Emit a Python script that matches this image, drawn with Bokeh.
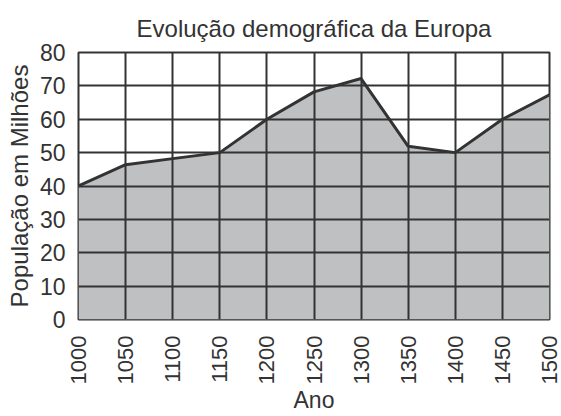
from bokeh.plotting import figure
from bokeh.models import FixedTicker, Range1d
from bokeh.embed import file_html
from bokeh.resources import INLINE
import math

anos = [1000, 1050, 1100, 1150, 1200, 1250, 1300, 1350, 1400, 1450, 1500]
populacao = [40, 46.4, 48.2, 50, 60, 68.2, 72.2, 51.9, 50, 60, 67.3]
y_ticks = [0, 10, 20, 30, 40, 50, 60, 70, 80]

FONT = "Liberation Sans"
DARK = "#333333"

p = figure(width=561, height=416, output_backend="svg", toolbar_location=None,
           x_range=Range1d(1000, 1500), y_range=Range1d(0, 80),
           title="Evolução demográfica da Europa",
           min_border_left=78, min_border_right=12, min_border_top=52, min_border_bottom=97)

p.varea(x=anos, y1=[0] * len(anos), y2=populacao, fill_color="#bfc0c2", level="image")
p.line(x=anos, y=populacao, line_color=DARK, line_width=3)

p.title.align = "center"
p.title.text_font = FONT
p.title.text_font_size = "24px"
p.title.text_font_style = "normal"
p.title.text_color = DARK
p.title.standoff = 22

p.outline_line_color = DARK
p.outline_line_width = 2
p.background_fill_color = "white"
p.border_fill_color = "white"

for g in (p.xgrid, p.ygrid):
    g.grid_line_color = DARK
    g.grid_line_width = 2
    g.grid_line_alpha = 1

p.xaxis.ticker = FixedTicker(ticks=anos)
p.yaxis.ticker = FixedTicker(ticks=y_ticks)
p.xgrid.ticker = FixedTicker(ticks=anos)
p.ygrid.ticker = FixedTicker(ticks=y_ticks)

for ax in (p.xaxis[0], p.yaxis[0]):
    ax.axis_line_color = None
    ax.major_tick_line_color = None
    ax.minor_tick_line_color = None
    ax.major_label_text_font = FONT
    ax.major_label_text_font_size = "22px"
    ax.major_label_text_color = DARK
    ax.axis_label_text_font = FONT
    ax.axis_label_text_font_size = "23px"
    ax.axis_label_text_font_style = "normal"
    ax.axis_label_text_color = DARK

p.yaxis.major_label_text_font_size = "23px"
p.yaxis.axis_label_text_font_size = "24px"
p.xaxis.axis_label = "Ano"
p.yaxis.axis_label = "População em Milhões"
p.xaxis.major_label_orientation = math.pi / 2
p.xaxis.major_label_standoff = 10
p.yaxis.major_label_standoff = 7
p.xaxis.axis_label_standoff = 0
p.yaxis.axis_label_standoff = 4

open("out.html", "w").write(file_html(p, INLINE))
